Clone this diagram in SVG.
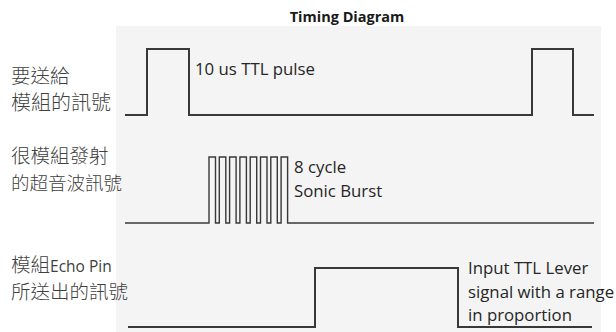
<svg xmlns="http://www.w3.org/2000/svg" width="616" height="332" viewBox="0 0 616 332">
<style>
.cjk{font-family:"Noto Sans CJK TC","Noto Sans CJK SC",sans-serif;font-size:19.5px;font-weight:300;fill:#404040}
.cjkl{font-family:"Open Sans","Liberation Sans",sans-serif;font-size:15.5px;font-weight:normal}
.lat{font-family:"Open Sans","Liberation Sans",sans-serif;font-size:16.8px;fill:#262626}
.title{font-family:"Open Sans","Liberation Sans",sans-serif;font-size:14.5px;font-weight:bold;fill:#1a1a1a}
.wave{fill:none;stroke:#383838;stroke-width:2;stroke-linejoin:miter}
.burst{fill:none;stroke:#383838;stroke-width:1.4}
</style>
<rect width="616" height="332" fill="#ffffff"/>
<rect id="panel" x="116" y="26" width="485" height="306" fill="#f4f4f4"/>
<g id="title"><text class="title" x="347" y="22" text-anchor="middle">Timing Diagram</text></g>
<g id="label-trigger">
<text class="cjk" x="11" y="83">要送給</text>
<text class="cjk" x="11" y="110" style="font-size:20px">模組的訊號</text>
</g>
<g id="label-burst">
<text class="cjk" x="11" y="163">很模組發射</text>
<text class="cjk" x="11" y="190" style="font-size:18.5px">的超音波訊號</text>
</g>
<g id="label-echo">
<text class="cjk" x="11" y="272">模組<tspan class="cjkl">Echo Pin</tspan></text>
<text class="cjk" x="11" y="299">所送出的訊號</text>
</g>
<g id="connectors">
<path id="sig-trigger" class="wave" d="M125 115 H147 V49 H189 V115 H532 V49 H573 V115 H594"/>
<path id="sig-burst" class="burst" d="M125 223 H209 V157 H215.5 V223 H219.3 V157 H225.8 V223 H229.6 V157 H236.1 V223 H239.9 V157 H246.4 V223 H250.2 V157 H256.7 V223 H260.5 V157 H267 V223 H270.8 V157 H277.3 V223 H281.1 V157 H287.6 V223 H594"/>
<path id="sig-echo" class="wave" d="M128 327 H315 V268 H458 V327 H592"/>
</g>
<g id="text-trigger"><text class="lat" x="195" y="75">10 us TTL pulse</text></g>
<g id="text-burst">
<text class="lat" x="294" y="173">8 cycle</text>
<text class="lat" x="294" y="197">Sonic Burst</text>
</g>
<g id="text-echo">
<text class="lat" x="468" y="274">Input TTL Lever</text>
<text class="lat" x="468" y="298">signal with a range</text>
<text class="lat" x="468" y="321">in proportion</text>
</g>
</svg>
